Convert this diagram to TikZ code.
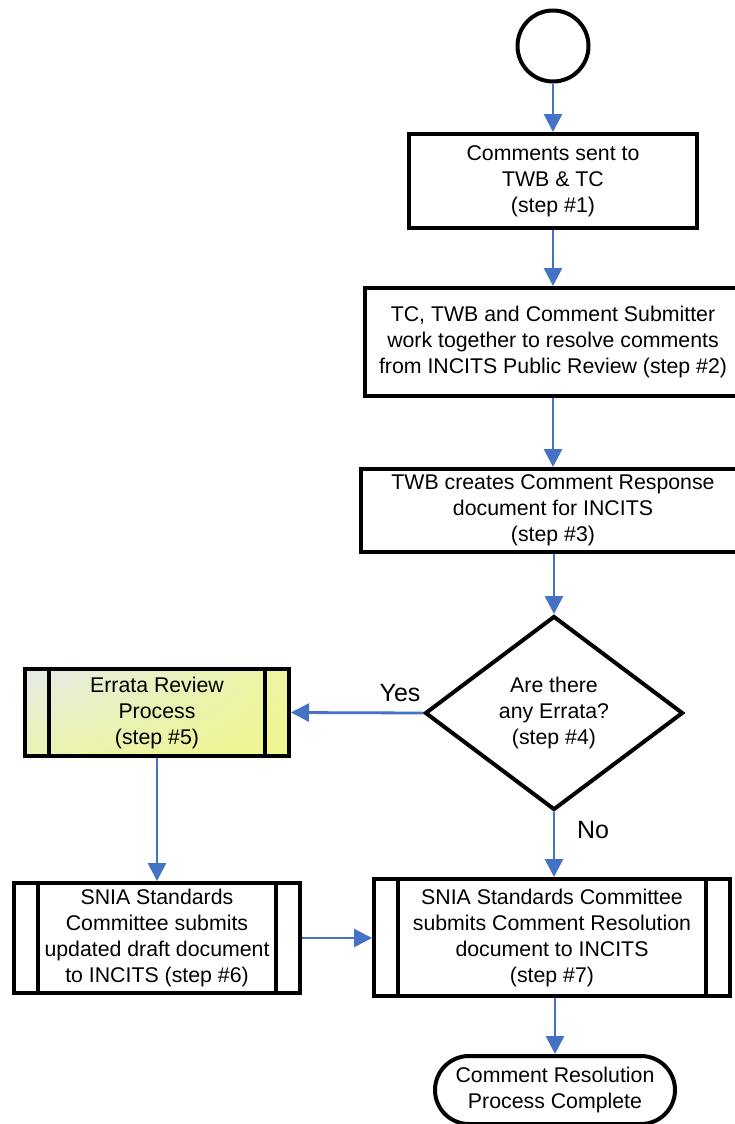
\documentclass[tikz,border=0pt]{standalone}
\usepackage{fontspec}
\setmainfont{Liberation Sans}
\usetikzlibrary{shapes.geometric,arrows.meta,shadings}
\definecolor{flowblue}{RGB}{68,114,196}
\definecolor{errUL}{RGB}{228,236,234}
\definecolor{errUR}{RGB}{238,244,160}
\definecolor{errLL}{RGB}{236,242,176}
\definecolor{errLR}{RGB}{238,246,140}
\begin{document}
\begin{tikzpicture}[x=1pt,y=-1pt,
  every node/.style={font=\fontsize{21.3}{26}\selectfont, align=center, inner sep=0pt},
  boxstyle/.style={draw=black, line width=4pt, rectangle, fill=white},
  flow/.style={draw=flowblue, line width=2.8pt, -{Triangle[length=18pt,width=18pt]}},
  bar/.style={draw=black, line width=4pt},
  lbl/.style={font=\fontsize{25}{30}\selectfont}
]
\clip (0,0) rectangle (735,1124);
\fill[white] (0,0) rectangle (735,1124);

\node[circle, draw=black, line width=4pt, minimum size=71pt] (start) at (553,46) {};
\node[boxstyle, minimum width=288pt, minimum height=94pt] (s1) at (553,181)
  {Comments sent to\\TWB \& TC\\(step \#1)};
\node[boxstyle, minimum width=376pt, minimum height=108pt] (s2) at (553,342)
  {TC, TWB and Comment Submitter\\work together to resolve comments\\from INCITS Public Review (step \#2)};
\node[boxstyle, minimum width=384pt, minimum height=83pt] (s3) at (553,510.5)
  {TWB creates Comment Response\\document for INCITS\\(step \#3)};
\node[diamond, aspect=1.33, draw=black, line width=4pt, fill=white,
      minimum width=258pt, minimum height=194pt] (s4) at (554,713)
  {Are there\\any Errata?\\(step \#4)};
\node[draw=black, line width=4pt, rectangle,
      upper left=errUL, upper right=errUR, lower left=errLL, lower right=errLR,
      minimum width=264pt, minimum height=87pt] (s5) at (157,712.5)
  {Errata Review\\Process\\(step \#5)};
\node[boxstyle, minimum width=286pt, minimum height=110pt] (s6) at (157,938)
  {SNIA Standards\\Committee submits\\updated draft document\\to INCITS (step \#6)};
\node[boxstyle, minimum width=356pt, minimum height=117pt] (s7) at (552,937.5)
  {SNIA Standards Committee\\submits Comment Resolution\\document to INCITS\\(step \#7)};
\node[draw=black, line width=4pt, fill=white, rectangle, rounded corners=34pt,
      minimum width=240pt, minimum height=68pt] (end) at (555,1090)
  {Comment Resolution\\Process Complete};

\foreach \n in {s5,s6,s7} {
  \draw[bar] ([xshift=26pt]\n.north west) -- ([xshift=26pt]\n.south west);
  \draw[bar] ([xshift=-26pt]\n.north east) -- ([xshift=-26pt]\n.south east);
}

\draw[flow] (start) -- (s1);
\draw[flow] (s1) -- (s2);
\draw[flow] (s2) -- (s3);
\draw[flow] (s3.south -| s4.north) -- (s4.north);
\draw[flow] (s4.west) -- (s5.east);
\draw[flow] (s4.south) -- (s4.south |- s7.north);
\draw[flow] (s5) -- (s6);
\draw[flow] (s6.east) -- (s6.east -| s7.west);
\draw[flow] (s7.south -| end.north) -- (end.north);

\node[lbl] (yes) at (400,693) {Yes};
\node[lbl] (no) at (593,830) {No};
\end{tikzpicture}
\end{document}
